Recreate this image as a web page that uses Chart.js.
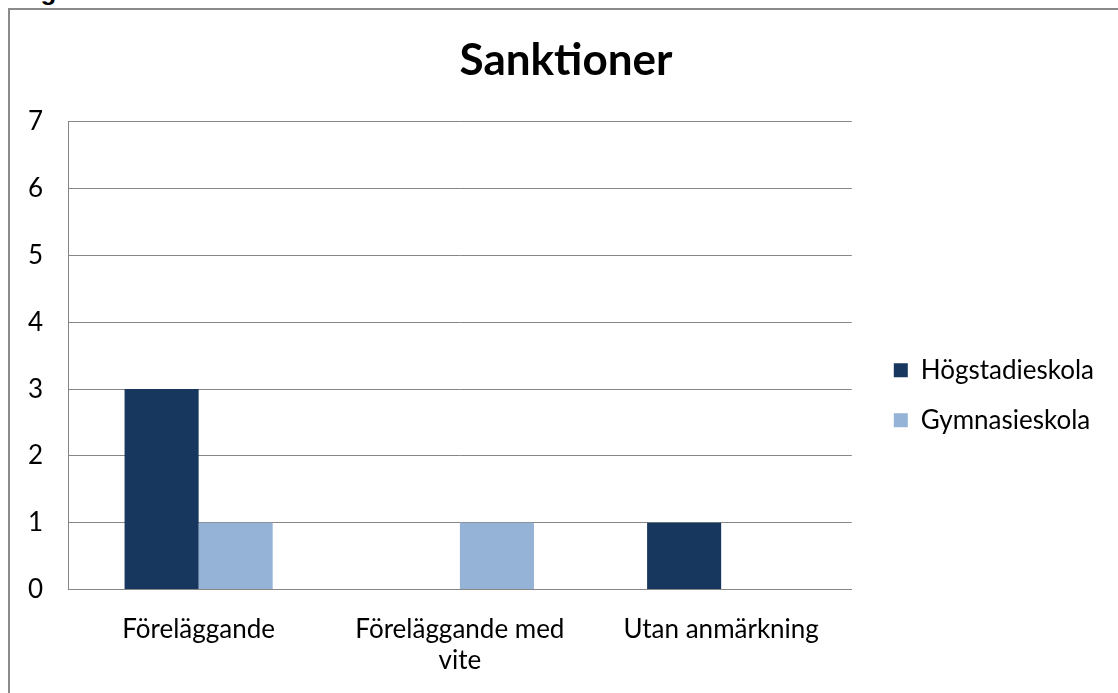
<!DOCTYPE html>
<html>
<head>
<meta charset="utf-8">
<script src="https://cdn.jsdelivr.net/npm/chart.js@4"></script>
<style>
  html, body { margin: 0; padding: 0; background: #fff; overflow: hidden; }
  #caption { position: absolute; left: 0; top: -22px; font: bold 26px/26px "Liberation Sans", Arial, sans-serif; color: #000; }
  #frame { position: absolute; left: 8px; top: 8px; width: 1130px; height: 700px; border: 2px solid #8a8a8a; }
  #box { position: absolute; left: 10px; top: 10px; width: 1114px; height: 690px; }
</style>
</head>
<body>
<div id="caption">Diagram 5</div>
<div id="frame"></div>
<div id="box"><canvas id="sanktioner"></canvas></div>
<script>
const kategorier = ["Föreläggande", ["Föreläggande med", "vite"], "Utan anmärkning"];
const hogstadieskola = [3, 0, 1];
const gymnasieskola = [1, 1, 0];
const yTicks = [0, 1, 2, 3, 4, 5, 6, 7];

const grafSanktioner = new Chart(
  document.querySelector("#sanktioner"),
  {
    type: "bar",
    data: {
      labels: kategorier,
      datasets: [{
        label: "Högstadieskola",
        backgroundColor: "#17375E",
        data: hogstadieskola,
      }, {
        label: "Gymnasieskola",
        backgroundColor: "#95B3D7",
        data: gymnasieskola,
      }]
    },
    options: {
      responsive: true,
      maintainAspectRatio: false,
      animation: false,
      categoryPercentage: 0.567,
      barPercentage: 1,
      layout: { padding: { left: 18, right: 20, top: 0, bottom: 0 } },
      plugins: {
        title: {
          display: true,
          text: "Sanktioner",
          color: "#000",
          font: { family: "Lato", size: 44, weight: "bold" },
          padding: { top: 24, bottom: 35 }
        },
        legend: {
          position: "right",
          maxWidth: 320,
          title: { display: true, text: " ", padding: 33 },
          labels: {
            color: "#000",
            font: { family: "Lato", size: 26 },
            boxWidth: 14,
            boxHeight: 14,
            padding: 24
          }
        },
        tooltip: { enabled: false }
      },
      scales: {
        x: {
          grid: { display: false, drawTicks: false },
          border: { color: "#868686" },
          afterFit: (s) => { s.paddingLeft = 0; s.paddingRight = 0; },
          ticks: {
            color: "#000",
            font: { family: "Lato", size: 26 },
            padding: 24,
            maxRotation: 0
          }
        },
        y: {
          min: 0,
          max: 7,
          afterBuildTicks: (axis) => { axis.ticks = yTicks.map(v => ({ value: v })); },
          afterFit: (s) => { s.width = 40; },
          grid: { color: "#868686", drawTicks: false },
          border: { color: "#868686" },
          ticks: {
            color: "#000",
            font: { family: "Lato", size: 26 },
            padding: 25
          }
        },
        luft: {
          position: "right",
          grid: { display: false },
          border: { display: false },
          ticks: { display: false },
          afterFit: (s) => { s.width = 18; }
        }
      }
    }
  }
);
</script>
</body>
</html>
